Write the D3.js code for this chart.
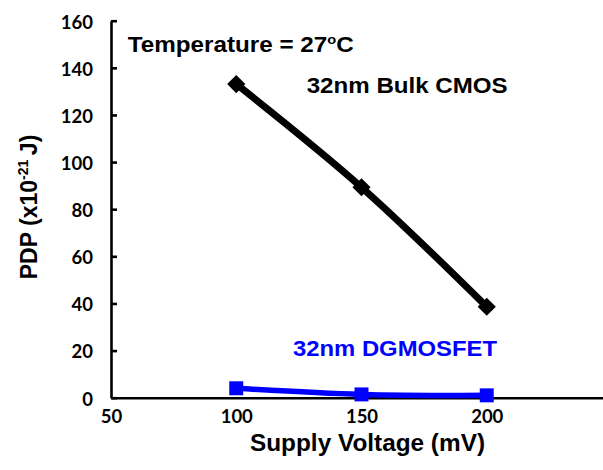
<!DOCTYPE html>
<html><head><meta charset="utf-8">
<script src="https://cdn.jsdelivr.net/npm/d3@7"></script>
<style>html,body{margin:0;padding:0;background:#fff;}</style>
</head><body>
<svg id="c" width="603" height="470"></svg>
<script>
const voltages = [100, 150, 200];
const bulkCMOS = [133.1, 89.3, 38.6];
const dgmosfet = [4.0, 1.4, 1.0];
const xTicks = [50, 100, 150, 200];
const yTicks = [0, 20, 40, 60, 80, 100, 120, 140, 160];

const svg = d3.select("#c");
const x = d3.scaleLinear().domain([50, 250]).range([111, 612]);
const y = d3.scaleLinear().domain([0, 160]).range([397.7, 20.7]);

const tickFont = "Lato, 'Open Sans', sans-serif";
const textFont = "'Liberation Sans', Arial, sans-serif";

// Y axis
const gy = svg.append("g").attr("transform", `translate(${x(50)},0)`)
  .call(d3.axisLeft(y).tickValues(yTicks).tickSizeInner(-6).tickSizeOuter(0).tickPadding(18).tickFormat(d3.format("d")));
gy.select(".domain").attr("stroke", "#000").attr("stroke-width", 2.6);
gy.selectAll(".tick line").attr("stroke", "#000").attr("stroke-width", 2.6);
gy.selectAll(".tick text").attr("font-family", tickFont).attr("font-weight", "bold")
  .attr("font-size", 18.5).attr("fill", "#000").attr("dy", "0.4em");

// X axis
const gx = svg.append("g").attr("transform", `translate(0,${y(0)})`)
  .call(d3.axisBottom(x).tickValues(xTicks).tickSize(0).tickPadding(12).tickFormat(d3.format("d")));
gx.select(".domain").attr("stroke", "#000").attr("stroke-width", 2.6);
gx.selectAll(".tick text").attr("font-family", tickFont).attr("font-weight", "bold")
  .attr("font-size", 18.5).attr("fill", "#000");

// Lines
const lineGen = d3.line().x(d => x(d[0])).y(d => y(d[1])).curve(d3.curveCatmullRom.alpha(0.5));
const bulkData = voltages.map((v, i) => [v, bulkCMOS[i]]);
const dgData = voltages.map((v, i) => [v, dgmosfet[i]]);

svg.append("path").datum(bulkData).attr("d", lineGen)
  .attr("fill", "none").attr("stroke", "#000").attr("stroke-width", 7).attr("stroke-linejoin", "round");
svg.append("path").datum(dgData).attr("d", lineGen)
  .attr("fill", "none").attr("stroke", "#0000ff").attr("stroke-width", 5.5).attr("stroke-linejoin", "round");

// Markers
const diamond = d3.symbol().type(d3.symbolSquare).size(165);
svg.selectAll(".dia").data(bulkData).join("path").attr("class", "dia")
  .attr("d", diamond)
  .attr("transform", d => `translate(${x(d[0])},${y(d[1])}) rotate(45)`)
  .attr("fill", "#000");
const square = d3.symbol().type(d3.symbolSquare).size(195);
svg.selectAll(".sq").data(dgData).join("path").attr("class", "sq")
  .attr("d", square)
  .attr("transform", d => `translate(${x(d[0])},${y(d[1])})`)
  .attr("fill", "#0000ff");

// Texts
const t1 = svg.append("text").attr("x", 127.7).attr("y", 51.7)
  .attr("font-family", textFont).attr("font-weight", "bold").attr("font-size", 21.5).attr("fill", "#000")
  .attr("textLength", 226).attr("lengthAdjust", "spacingAndGlyphs");
t1.append("tspan").text("Temperature = 27");
t1.append("tspan").attr("font-size", 13).attr("dy", -8).text("o");
t1.append("tspan").attr("dy", 8).text("C");

svg.append("text").attr("x", 306.7).attr("y", 93.3)
  .attr("font-family", textFont).attr("font-weight", "bold").attr("font-size", 21.5).attr("fill", "#000")
  .attr("textLength", 201).attr("lengthAdjust", "spacingAndGlyphs")
  .text("32nm Bulk CMOS");

svg.append("text").attr("x", 293).attr("y", 355.7)
  .attr("font-family", textFont).attr("font-weight", "bold").attr("font-size", 22).attr("fill", "#0000ff")
  .attr("textLength", 204).attr("lengthAdjust", "spacingAndGlyphs")
  .text("32nm DGMOSFET");

svg.append("text").attr("x", 250).attr("y", 451)
  .attr("font-family", textFont).attr("font-weight", "bold").attr("font-size", 23).attr("fill", "#000")
  .attr("textLength", 235).attr("lengthAdjust", "spacingAndGlyphs")
  .text("Supply Voltage (mV)");

const yl = svg.append("text").attr("transform", "translate(36.5,207) rotate(-90)")
  .attr("text-anchor", "middle")
  .attr("font-family", textFont).attr("font-weight", "bold").attr("font-size", 23).attr("fill", "#000");
yl.append("tspan").text("PDP (x10");
yl.append("tspan").attr("font-size", 14).attr("dy", -9).text("-21");
yl.append("tspan").attr("dy", 9).text("\u2009J)");
</script>
</body></html>
